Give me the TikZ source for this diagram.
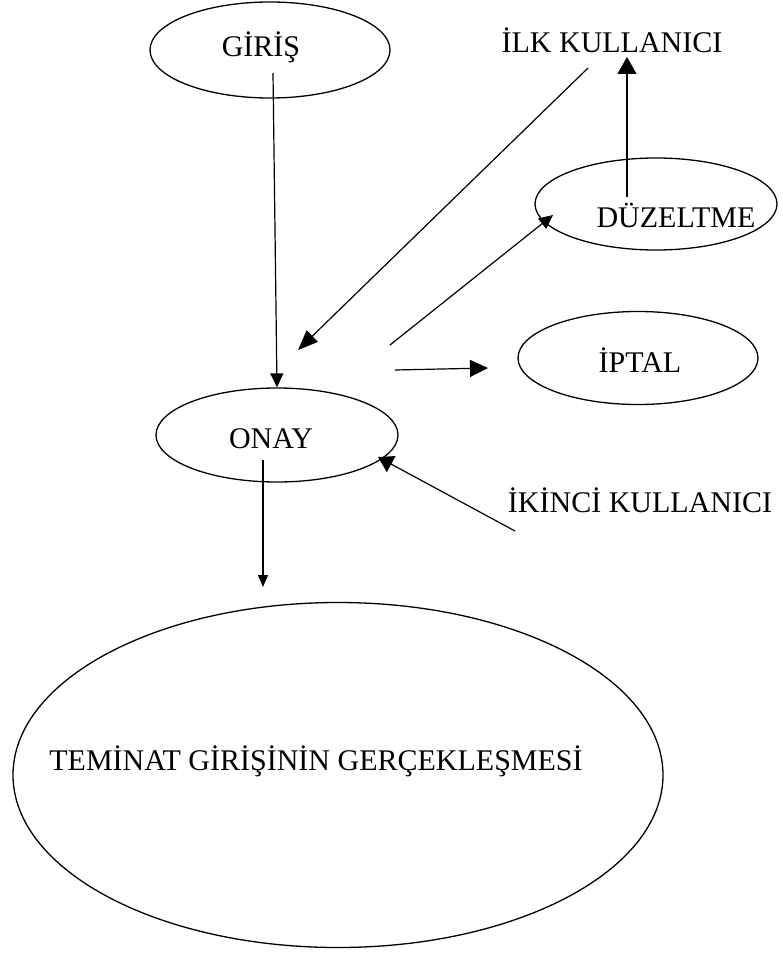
\documentclass[tikz,border=0pt]{standalone}
\usepackage{fontspec}
\setmainfont{Liberation Serif}
\usetikzlibrary{arrows.meta,shapes.geometric}
\begin{document}
\begin{tikzpicture}[x=1pt,y=-1pt,
  oval/.style={draw=black,line width=1.3pt,ellipse,inner sep=0pt},
  lbl/.style={anchor=base,inner sep=0pt,font=\fontsize{30}{36}\selectfont},
  conn/.style={line width=1.2pt,-{Triangle[length=14pt,width=13pt]}}]
\useasboundingbox (0,0) rectangle (782,955);
% ellipses
\node[oval,minimum width=240pt,minimum height=96pt] (giris) at (270,50) {};
\node[oval,minimum width=242pt,minimum height=94pt] (onay) at (277,435) {};
\node[oval,minimum width=242pt,minimum height=92pt] (duz) at (656,204) {};
\node[oval,minimum width=240pt,minimum height=93pt] (iptal) at (638,358) {};
\node[oval,minimum width=650pt,minimum height=345pt] (big) at (338,775) {};
% texts
\node[lbl] (tgiris) at (261,57) {GİRİŞ};
\node[lbl] (tonay) at (271,448) {ONAY};
\node[lbl] (tduz) at (676,227) {DÜZELTME};
\node[lbl] (tiptal) at (640,372) {İPTAL};
\node[lbl] (tilk) at (612,53) {İLK KULLANICI};
\node[lbl] (tikinci) at (640,512) {İKİNCİ KULLANICI};
\node[lbl] (tbig) at (316,770) {TEMİNAT GİRİŞİNİN GERÇEKLEŞMESİ};
% free ends
\coordinate (g1) at (273,73);
\coordinate (o1) at (263,460);
\coordinate (b1) at (263,587);
\coordinate (d1) at (627,197);
\coordinate (i1) at (627,57);
\coordinate (l1) at (588,68);
\coordinate (l2) at (298,350);
\coordinate (m1) at (390,345);
\coordinate (m2) at (553,215);
\coordinate (p1) at (395,370);
\coordinate (p2) at (488,368);
\coordinate (k1) at (515,531);
\coordinate (k2) at (378,457);
% connectors
\draw[conn] (g1) -- (onay.north);
\draw[conn,-{Triangle[length=12pt,width=10pt]}] (o1) -- (b1);
\draw[conn,-{Triangle[length=17pt,width=19pt]}] (d1) -- (i1);
\draw[conn,-{Triangle[length=20pt,width=16pt]}] (l1) -- (l2);
\draw[conn] (m1) -- (m2);
\draw[conn,-{Triangle[length=18pt,width=17pt]}] (p1) -- (p2);
\draw[conn,-{Triangle[length=15pt,width=18pt]}] (k1) -- (k2);
\end{tikzpicture}
\end{document}
